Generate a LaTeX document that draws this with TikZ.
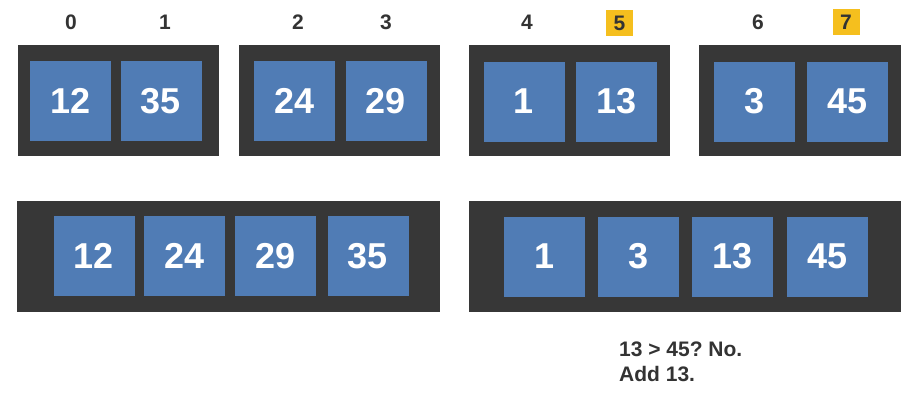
\documentclass[tikz,border=0pt]{standalone}
\usepackage{fontspec}
\setmainfont{Liberation Sans}
\usepackage{tikz}
\usetikzlibrary{positioning}
\definecolor{caja}{HTML}{373737}
\definecolor{celda}{HTML}{507CB5}
\definecolor{marca}{HTML}{F5BF1E}
\definecolor{texto}{HTML}{333333}
\frenchspacing
\tikzset{
	every node/.style={
		font=\bfseries
	},
	caja/.style={
		shape=rectangle,
		fill=caja,
		minimum height=111pt,
		inner sep=0pt
	},
	celda/.style={
		shape=rectangle,
		fill=celda,
		minimum width=81pt,
		minimum height=80pt,
		inner sep=0pt,
		text=white,
		font=\fontsize{36}{40}\selectfont\bfseries
	},
	indice/.style={
		text=texto,
		inner sep=0pt,
		font=\fontsize{21}{24}\selectfont\bfseries
	},
	marcado/.style={
		indice,
		fill=marca,
		minimum width=27pt,
		minimum height=26pt
	}
}

\begin{document}
\begin{tikzpicture}[x=1pt,y=-1pt]
	\useasboundingbox (0,0) rectangle (914,402);
	
	% arrays de arriba
	\node[caja, minimum width=201pt] (A) at (118.5,100) {};
	\node[caja, minimum width=201pt] (B) at (339.5,100) {};
	\node[caja, minimum width=201pt] (C) at (569.5,100) {};
	\node[caja, minimum width=202pt] (D) at (800,100) {};
	
	\node[celda] (A0) at (70.5,101)  {12};
	\node[celda] (A1) at (161,101)   {35};
	\node[celda] (B0) at (294.5,101) {24};
	\node[celda] (B1) at (386,101)   {29};
	\node[celda] (C0) at (524,101.5) {1};
	\node[celda] (C1) at (616.5,101.5) {13};
	\node[celda] (D0) at (754.5,101.5) {3};
	\node[celda] (D1) at (847.5,101.5) {45};
	
	\node[indice]  (i0) at (71,22.5)  {0};
	\node[indice]  (i1) at (165,22.5) {1};
	\node[indice]  (i2) at (298,22.5) {2};
	\node[indice]  (i3) at (386,22.5) {3};
	\node[indice]  (i4) at (527,22.5) {4};
	\node[marcado] (i5) at (619.5,23) {5};
	\node[indice]  (i6) at (758,22.5) {6};
	\node[marcado] (i7) at (846,22) {7};
	
	% arrays de abajo
	\node[caja, minimum width=423pt] (E) at (228.5,256.5) {};
	\node[caja, minimum width=432pt] (F) at (685,256.5) {};
	
	\node[celda] (E0) at (94,256)    {12};
	\node[celda] (E1) at (184.5,256) {24};
	\node[celda] (E2) at (275.5,256) {29};
	\node[celda] (E3) at (368,256)   {35};
	\node[celda] (F0) at (544.5,256.5) {1};
	\node[celda] (F1) at (638.5,256.5) {3};
	\node[celda] (F2) at (732.5,256.5) {13};
	\node[celda] (F3) at (827.5,256.5) {45};
	
	\node[text=texto, inner sep=0pt, anchor=north west, align=left,
		font=\fontsize{21}{25}\selectfont\bfseries] (nota) at (619,342)
		{13 > 45? No.\\Add 13.};
\end{tikzpicture}
\end{document}
